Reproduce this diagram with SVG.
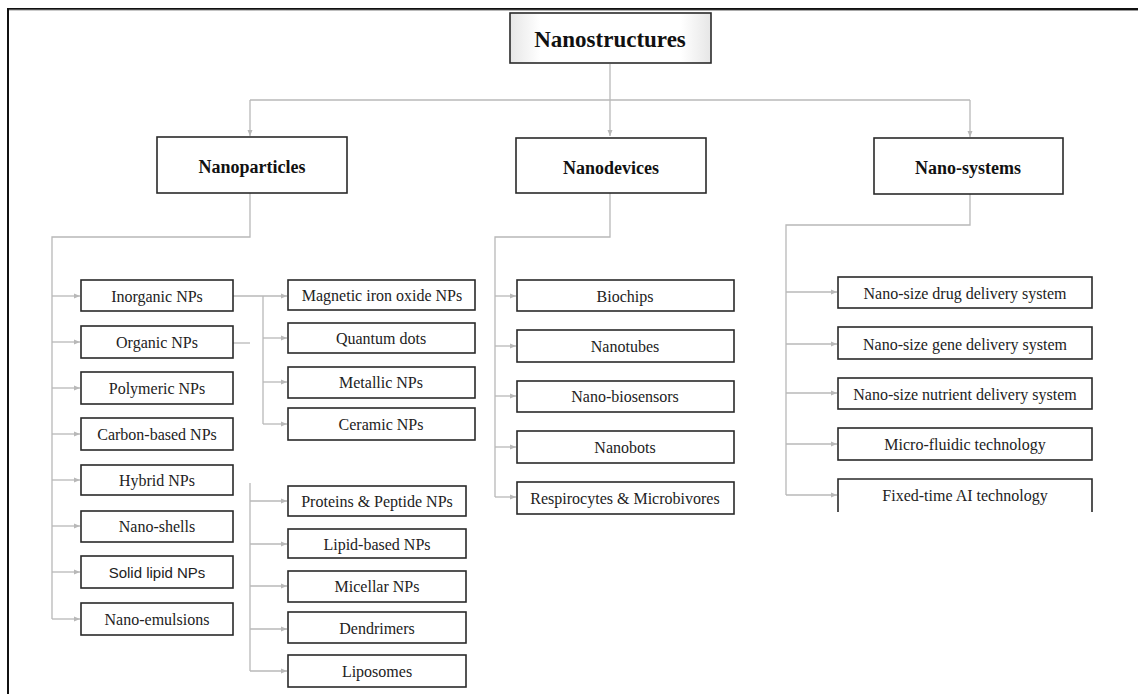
<svg xmlns="http://www.w3.org/2000/svg" width="1138" height="694" viewBox="0 0 1138 694">
<style>
.bx{fill:#fff;stroke:#2a2a2a;stroke-width:1.6}
.t{font-family:"Liberation Serif","Times New Roman",serif;font-size:16px;fill:#222;text-anchor:middle;dominant-baseline:central}
.h{font-family:"Liberation Serif","Times New Roman",serif;font-size:18px;font-weight:bold;fill:#111;text-anchor:middle;dominant-baseline:central}
.c{fill:none;stroke:#b8b8b8;stroke-width:1.3}
</style>
<defs>
<marker id="ar" viewBox="0 0 6 6" refX="6" refY="3" markerWidth="6" markerHeight="6" markerUnits="userSpaceOnUse" orient="auto">
<path d="M0,0.5 L6,3 L0,5.5 Z" fill="#b8b8b8"/>
</marker>
<linearGradient id="gh" x1="0" y1="0" x2="1" y2="0">
<stop offset="0" stop-color="#e6e6e6"/><stop offset="0.15" stop-color="#fff"/><stop offset="0.85" stop-color="#fff"/><stop offset="1" stop-color="#e6e6e6"/>
</linearGradient>
</defs>
<rect width="1138" height="694" fill="#fff"/>
<g id="frame">
<line x1="8" y1="9" x2="1138" y2="9" stroke="#111" stroke-width="2"/>
<line x1="8" y1="10" x2="1138" y2="10.5" stroke="#999" stroke-width="1"/>
<line x1="8" y1="8" x2="8" y2="694" stroke="#111" stroke-width="2"/>
</g>
<g id="connectors">
<path class="c" d="M610,64 V136" marker-end="url(#ar)"/>
<path class="c" d="M250,100 H970"/>
<path class="c" d="M250,100 V136" marker-end="url(#ar)"/>
<path class="c" d="M970,100 V137" marker-end="url(#ar)"/>
<path class="c" d="M250,193 V237 H52 V619"/>
<path class="c" d="M52,296 H80" marker-end="url(#ar)"/>
<path class="c" d="M52,342 H80" marker-end="url(#ar)"/>
<path class="c" d="M52,388 H80" marker-end="url(#ar)"/>
<path class="c" d="M52,434 H80" marker-end="url(#ar)"/>
<path class="c" d="M52,480 H80" marker-end="url(#ar)"/>
<path class="c" d="M52,526 H80" marker-end="url(#ar)"/>
<path class="c" d="M52,572 H80" marker-end="url(#ar)"/>
<path class="c" d="M52,619 H80" marker-end="url(#ar)"/>
<path class="c" d="M233,296 H287" marker-end="url(#ar)"/>
<path class="c" d="M263,296 V424"/>
<path class="c" d="M263,338 H287" marker-end="url(#ar)"/>
<path class="c" d="M263,382 H287" marker-end="url(#ar)"/>
<path class="c" d="M263,424 H287" marker-end="url(#ar)"/>
<path class="c" d="M233,343 H250"/>
<path class="c" d="M250,483 V671"/>
<path class="c" d="M250,501 H287" marker-end="url(#ar)"/>
<path class="c" d="M250,544 H287" marker-end="url(#ar)"/>
<path class="c" d="M250,586 H287" marker-end="url(#ar)"/>
<path class="c" d="M250,629 H287" marker-end="url(#ar)"/>
<path class="c" d="M250,671 H287" marker-end="url(#ar)"/>
<path class="c" d="M610,193 V237 H495 V497"/>
<path class="c" d="M495,296 H516" marker-end="url(#ar)"/>
<path class="c" d="M495,346 H516" marker-end="url(#ar)"/>
<path class="c" d="M495,396 H516" marker-end="url(#ar)"/>
<path class="c" d="M495,447 H516" marker-end="url(#ar)"/>
<path class="c" d="M495,497 H516" marker-end="url(#ar)"/>
<path class="c" d="M970,194 V225 H786 V495"/>
<path class="c" d="M786,292 H837" marker-end="url(#ar)"/>
<path class="c" d="M786,344 H837" marker-end="url(#ar)"/>
<path class="c" d="M786,393 H837" marker-end="url(#ar)"/>
<path class="c" d="M786,444 H837" marker-end="url(#ar)"/>
<path class="c" d="M786,495 H837" marker-end="url(#ar)"/>
</g>
<g id="n-nanostructures"><rect x="510" y="13" width="201" height="50" fill="url(#gh)" stroke="#2a2a2a" stroke-width="1.6"/><text class="h" x="610" y="39" style="font-size:23px">Nanostructures</text></g>
<g id="n-nanoparticles"><rect class="bx" x="157" y="137" width="190" height="56"/><text class="h" x="252" y="167">Nanoparticles</text></g>
<g id="n-nanodevices"><rect class="bx" x="516" y="138" width="190" height="55"/><text class="h" x="611" y="168">Nanodevices</text></g>
<g id="n-nanosystems"><rect class="bx" x="874" y="138" width="189" height="56"/><text class="h" x="968" y="168">Nano-systems</text></g>

<g id="n-inorganic"><rect class="bx" x="81" y="280" width="152" height="31"/><text class="t" x="157" y="296">Inorganic NPs</text></g>
<g id="n-organic"><rect class="bx" x="81" y="326" width="152" height="32"/><text class="t" x="157" y="342">Organic NPs</text></g>
<g id="n-polymeric"><rect class="bx" x="81" y="372" width="152" height="32"/><text class="t" x="157" y="388">Polymeric NPs</text></g>
<g id="n-carbon"><rect class="bx" x="81" y="418" width="152" height="32"/><text class="t" x="157" y="434">Carbon-based NPs</text></g>
<g id="n-hybrid"><rect class="bx" x="81" y="465" width="152" height="30"/><text class="t" x="157" y="480">Hybrid NPs</text></g>
<g id="n-nanoshells"><rect class="bx" x="81" y="511" width="152" height="31"/><text class="t" x="157" y="526">Nano-shells</text></g>
<g id="n-solidlipid"><rect class="bx" x="81" y="556" width="152" height="32"/><text class="t" x="157" y="572" style="font-family:'Liberation Sans',Arial,sans-serif;font-size:15px">Solid lipid NPs</text></g>
<g id="n-nanoemulsions"><rect class="bx" x="81" y="603" width="152" height="32"/><text class="t" x="157" y="619">Nano-emulsions</text></g>

<g id="n-magnetic"><rect class="bx" x="288" y="280" width="187" height="30"/><text class="t" x="382" y="295">Magnetic iron oxide NPs</text></g>
<g id="n-quantum"><rect class="bx" x="288" y="323" width="187" height="30"/><text class="t" x="381" y="338">Quantum dots</text></g>
<g id="n-metallic"><rect class="bx" x="288" y="367" width="187" height="31"/><text class="t" x="381" y="382">Metallic NPs</text></g>
<g id="n-ceramic"><rect class="bx" x="288" y="408" width="187" height="32"/><text class="t" x="381" y="424">Ceramic NPs</text></g>

<g id="n-proteins"><rect class="bx" x="288" y="486" width="178" height="30"/><text class="t" x="377" y="501">Proteins &amp; Peptide NPs</text></g>
<g id="n-lipid"><rect class="bx" x="288" y="529" width="178" height="29"/><text class="t" x="377" y="544">Lipid-based NPs</text></g>
<g id="n-micellar"><rect class="bx" x="288" y="571" width="178" height="31"/><text class="t" x="377" y="586">Micellar NPs</text></g>
<g id="n-dendrimers"><rect class="bx" x="288" y="612" width="178" height="31"/><text class="t" x="377" y="628">Dendrimers</text></g>
<g id="n-liposomes"><rect class="bx" x="288" y="655" width="178" height="32"/><text class="t" x="377" y="671">Liposomes</text></g>

<g id="n-biochips"><rect class="bx" x="517" y="280" width="217" height="31"/><text class="t" x="625" y="296">Biochips</text></g>
<g id="n-nanotubes"><rect class="bx" x="517" y="330" width="217" height="32"/><text class="t" x="625" y="346">Nanotubes</text></g>
<g id="n-biosensors"><rect class="bx" x="517" y="381" width="217" height="31"/><text class="t" x="625" y="396">Nano-biosensors</text></g>
<g id="n-nanobots"><rect class="bx" x="517" y="431" width="217" height="32"/><text class="t" x="625" y="447">Nanobots</text></g>
<g id="n-respirocytes"><rect class="bx" x="517" y="482" width="217" height="32"/><text class="t" x="625" y="498">Respirocytes &amp; Microbivores</text></g>

<g id="n-drug"><rect class="bx" x="838" y="277" width="254" height="31"/><text class="t" x="965" y="293">Nano-size drug delivery system</text></g>
<g id="n-gene"><rect class="bx" x="838" y="327" width="254" height="32"/><text class="t" x="965" y="344">Nano-size gene delivery system</text></g>
<g id="n-nutrient"><rect class="bx" x="838" y="378" width="254" height="31"/><text class="t" x="965" y="394">Nano-size nutrient delivery system</text></g>
<g id="n-microfluidic"><rect class="bx" x="838" y="428" width="254" height="32"/><text class="t" x="965" y="444">Micro-fluidic technology</text></g>
<g id="n-fixedtime"><path d="M838,512 V479 H1092 V512" fill="#fff" stroke="#2a2a2a" stroke-width="1.6"/><text class="t" x="965" y="495">Fixed-time AI technology</text></g>
</svg>
